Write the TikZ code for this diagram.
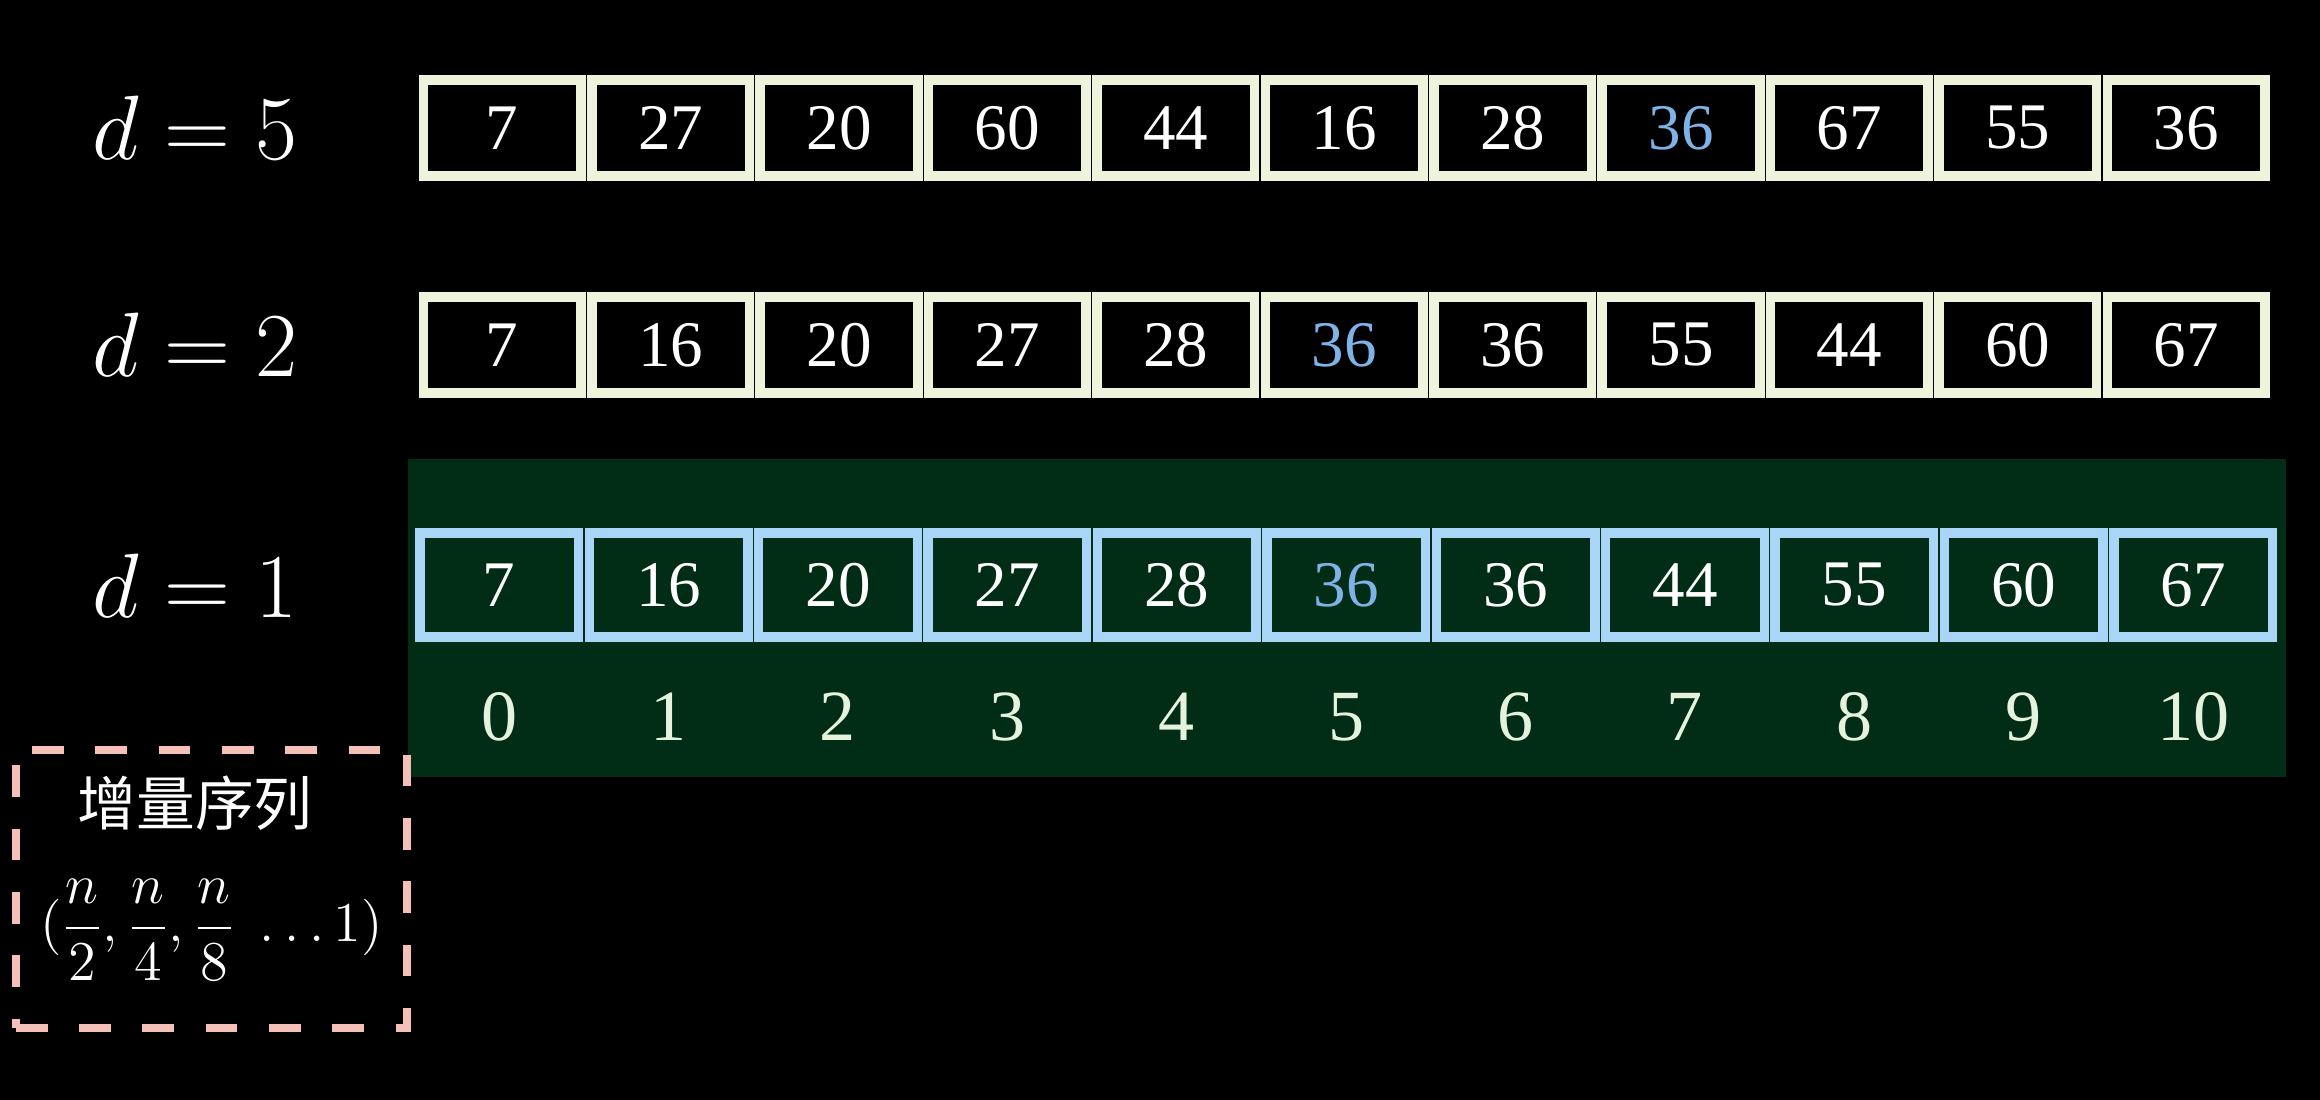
\RequirePackage{fix-cm}
\documentclass[tikz,border=0pt]{standalone}
\usepackage{amsmath}
\usepackage{fontspec}
\setmainfont{Liberation Serif}
\newfontfamily\cjk{Noto Sans CJK SC}
\usetikzlibrary{positioning}

\definecolor{cream}{HTML}{EEF4DC}
\definecolor{sky}{HTML}{A9D5F7}
\definecolor{hl}{HTML}{7EB3E8}
\definecolor{idxcol}{HTML}{E6F3DC}
\definecolor{bggreen}{HTML}{012C15}
\definecolor{pinkish}{HTML}{F5C0B8}

\begin{document}
\begin{tikzpicture}[
		x={(0.01cm,0cm)},
		y={(0cm,-0.01cm)},
		cell/.style={draw=cream, line width=2.7pt, minimum width=1.575cm, minimum height=0.96cm,
			inner sep=0pt, text=white, font=\fontsize{18.5}{20}\selectfont},
		cellb/.style={cell, draw=sky, minimum width=1.585cm, minimum height=1.04cm},
		idx/.style={inner sep=0pt, text=idxcol, font=\fontsize{20.5}{22}\selectfont},
		dlab/.style={inner sep=0pt, text=white, font=\fontsize{26}{30}\selectfont},
		seqbox/.style={draw=pinkish, line width=2.28pt, dash pattern=on 9pt off 9pt,
			minimum width=3.91cm, minimum height=2.78cm}
		]
		
		% background
		\fill[black] (0,0) rectangle (2320,1100);
		\fill[bggreen] (408,459) rectangle (2286,777);
		
		% d = 5
		\node[dlab] (d5) at (195,128) {$d=5$};
		\foreach \v/\c [count=\i from 0] in {7/white,27/white,20/white,60/white,44/white,16/white,
			28/white,36/hl,67/white,55/white,36/white}
		\node[cell, text=\c] (a\i) at ({418+168.4*(\i+0.5)},128) {\raisebox{-0.8pt}{\v}};
		
		% d = 2
		\node[dlab] (d2) at (195,345) {$d=2$};
		\foreach \v/\c [count=\i from 0] in {7/white,16/white,20/white,27/white,28/white,36/hl,
			36/white,55/white,44/white,60/white,67/white}
		\node[cell, text=\c] (b\i) at ({418+168.4*(\i+0.5)},345) {\raisebox{-0.8pt}{\v}};
		
		% d = 1, sorted
		\node[dlab] (d1) at (195,586) {$d=1$};
		\foreach \v/\c [count=\i from 0] in {7/white,16/white,20/white,27/white,28/white,36/hl,
			36/white,44/white,55/white,60/white,67/white}
		{
			\node[cellb, text=\c] (c\i) at ({414.5+169.4*(\i+0.5)},585) {\raisebox{-0.8pt}{\v}};
			\node[idx] (i\i) at ({414.5+169.4*(\i+0.5)},717) {\i};
		}
		
		% increment sequence
		\node[seqbox] (seq) at (211.5,889) {};
		\node[text=white, inner sep=0pt, font=\cjk\fontsize{16.7}{18}\selectfont] (seqtitle) at (195,803) {增量序列};
		\node[text=white, inner sep=0pt, font=\fontsize{16}{18}\selectfont] (seqval) at (211.5,930)
		{$(\dfrac{n}{2},\dfrac{n}{4},\dfrac{n}{8}\;\ldots 1)$};
		
	\end{tikzpicture}
\end{document}
